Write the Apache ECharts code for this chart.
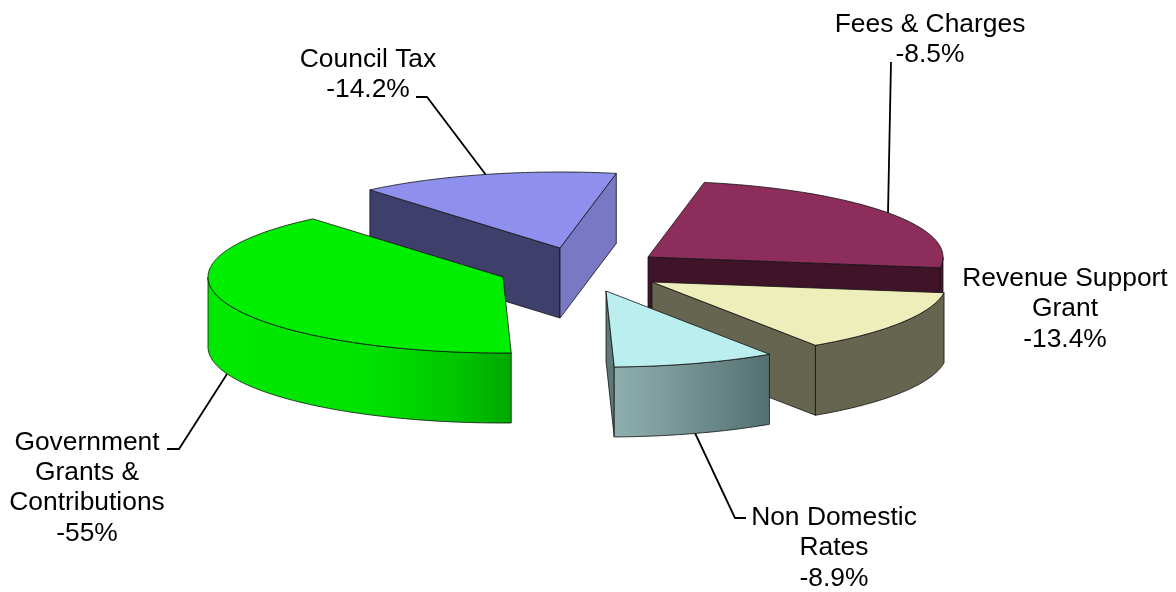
<!DOCTYPE html>
<html>
<head>
<meta charset="utf-8">
<style>
  html, body { margin: 0; padding: 0; background: #fff; }
  #chart { width: 1176px; height: 592px; }
</style>
</head>
<body>
<div id="chart"></div>
<script src="https://cdn.jsdelivr.net/npm/echarts@6/dist/echarts.min.js"></script>
<script>
// slices in clockwise order, starting from the back of the pie
const sliceNames = ['Fees & Charges', 'Revenue Support Grant', 'Non Domestic Rates', 'Government Grants & Contributions', 'Council Tax'];
// share of the circle each slice covers in the picture
const sliceShares = [24.2, 13.4, 8.9, 39.3, 14.2];
// the percentages as printed next to the slices (two of them differ from the drawn shares)
const printedPercents = ['-8.5%', '-13.4%', '-8.9%', '-55%', '-14.2%'];
const labelNames = ['Fees & Charges', 'Revenue Support\nGrant', 'Non Domestic\nRates', 'Government\nGrants &\nContributions', 'Council Tax'];

// pie geometry
const centerX = 590, centerY = 272;
const radiusX = 295, radiusY = 76, depth = 70;
const startAngle = 281;
// how far each slice is pulled out of the pie
const explode = [[58, -15], [62, 10], [16, 19], [-87, 5], [-30, -24]];
// slice indexes, back to front
const paintOrder = [4, 0, 3, 1, 2];

const gradient = (stops) => new echarts.graphic.LinearGradient(0, 0, 1, 0, stops.map((c, i) => ({ offset: c[0], color: c[1] })));

const topColors = ['#8c2d5c', '#eeeebb', '#bbeeee', '#00ee00', '#8f8fee'];
const sideColors = [
    '#46172e',
    '#666650',
    gradient([[0, '#8fafaf'], [0.4, '#7a9797'], [1, '#527070']]),
    gradient([[0, '#00e800'], [0.5, '#00e400'], [0.8, '#00c800'], [1, '#00a800']]),
    '#7878c4'
];
const startFaceColors = ['#3f1428', '#666650', '#527070', '#00a800', '#3f3f6b'];
const endFaceColors = ['#3f1428', '#666650', '#5f7878', '#00a800', '#7878c4'];
const edgeStyle = { stroke: '#111', lineWidth: 0.8 };

// label centres and leader lines
const labelCenters = [[930, 40], [1065, 309], [834, 548], [87, 488], [368, 75]];
const leaderLines = [
    [[891, 62], [888, 213]],
    null,
    [[746, 518], [735, 518], [695, 433]],
    [[167, 449], [179, 449], [227, 374]],
    [[416, 97], [427, 97], [486, 175]]
];

const total = sliceShares.reduce((a, b) => a + b, 0);

// start and end angle of every slice
const sliceAngles = [];
sliceShares.reduce((angle, share) => {
    const end = angle + share / total * 360;
    sliceAngles.push([angle, end]);
    return end;
}, startAngle);

const rad = (d) => d * Math.PI / 180;

const renderSlice = (params) => {
    const i = params.dataIndex;
    const [a, b] = sliceAngles[i];
    const ox = centerX + explode[i][0];
    const oy = centerY + explode[i][1];
    const rimPoint = (t, down) => [ox + radiusX * Math.cos(rad(t)), oy + radiusY * Math.sin(rad(t)) + (down || 0)];
    const arc = (from, to, down) => {
        const pts = [];
        const steps = Math.max(2, Math.ceil(to - from));
        for (let s = 0; s <= steps; s++) {
            pts.push(rimPoint(from + (to - from) * s / steps, down));
        }
        return pts;
    };
    const z = paintOrder.indexOf(i) * 10;
    const children = [];

    const face = (t, color) => {
        const rim = rimPoint(t);
        children.push({
            type: 'polygon',
            z2: z + 1,
            shape: { points: [[ox, oy], rim, [rim[0], rim[1] + depth], [ox, oy + depth]] },
            style: Object.assign({ fill: color }, edgeStyle)
        });
    };
    // only the cut faces turned towards the viewer
    if (Math.cos(rad(a)) < 0) face(a, startFaceColors[i]);
    if (Math.cos(rad(b)) > 0) face(b, endFaceColors[i]);

    // outer wall, only the part of the rim at the front
    [0, 360].forEach((k) => {
        const from = Math.max(a, k);
        const to = Math.min(b, k + 180);
        if (to > from) {
            children.push({
                type: 'polygon',
                z2: z + 2,
                shape: { points: arc(from, to).concat(arc(from, to, depth).reverse()) },
                style: Object.assign({ fill: sideColors[i] }, edgeStyle)
            });
        }
    });

    // top face
    children.push({
        type: 'polygon',
        z2: z + 3,
        shape: { points: [[ox, oy]].concat(arc(a, b)) },
        style: Object.assign({ fill: topColors[i] }, edgeStyle)
    });

    return { type: 'group', children: children };
};

const labelGraphics = labelNames.map((name, i) => ({
    type: 'text',
    z: 5,
    x: labelCenters[i][0],
    y: labelCenters[i][1],
    style: {
        text: name + '\n' + printedPercents[i],
        fill: '#000',
        font: '26.4px "Liberation Sans", Arial, sans-serif',
        lineHeight: 30.4,
        align: 'center',
        verticalAlign: 'middle'
    }
}));

const leaderGraphics = leaderLines.filter(Boolean).map((points) => ({
    type: 'polyline',
    z: 0,
    shape: { points: points },
    style: { stroke: '#000', lineWidth: 1.8, fill: null }
}));

const chart = echarts.init(document.getElementById('chart'));
chart.setOption({
    animation: false,
    backgroundColor: '#fff',
    tooltip: { show: false },
    graphic: leaderGraphics.concat(labelGraphics),
    series: [
        {
            type: 'custom',
            coordinateSystem: 'none',
            z: 2,
            silent: true,
            renderItem: renderSlice,
            data: sliceShares.map((v, i) => ({ name: sliceNames[i], value: v }))
        }
    ]
});
</script>
</body>
</html>
